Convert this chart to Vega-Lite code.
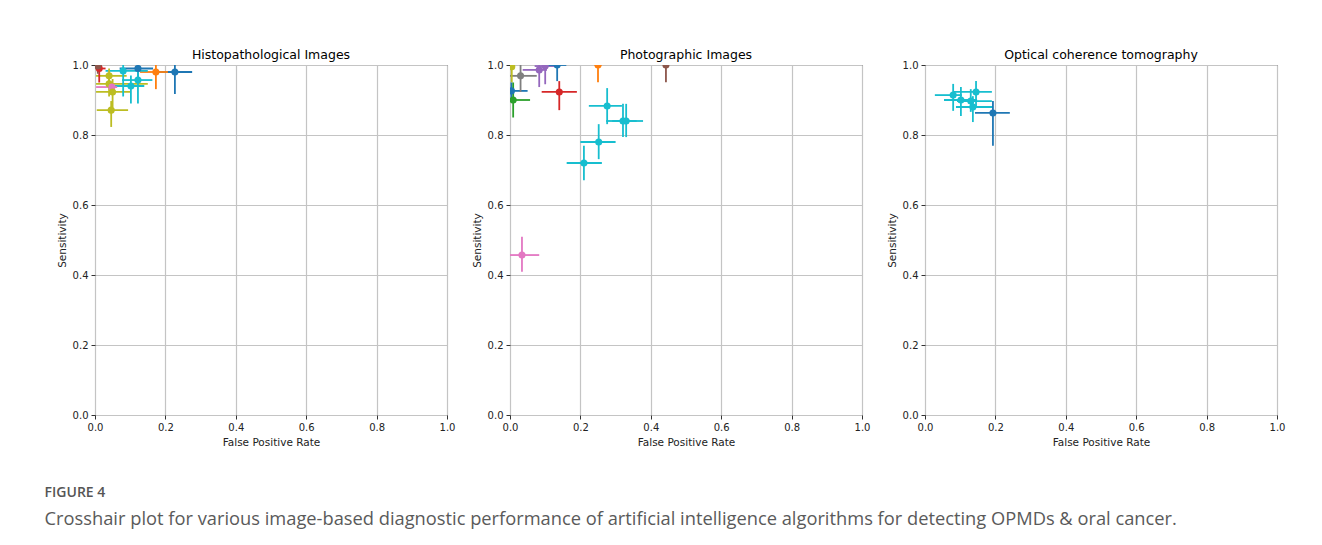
{
  "$schema": "https://vega.github.io/schema/vega-lite/v6.json",
  "padding": {"left": 44, "top": 48, "right": 5, "bottom": 5},
  "background": "white",
  "title": {
    "text": "FIGURE 4",
    "subtitle": "Crosshair plot for various image-based diagnostic performance of artificial intelligence algorithms for detecting OPMDs & oral cancer.",
    "orient": "bottom",
    "anchor": "start",
    "frame": "bounds",
    "offset": 38,
    "dx": -12,
    "font": "Open Sans",
    "fontSize": 14,
    "fontWeight": 600,
    "color": "#555555",
    "subtitleFont": "Open Sans",
    "subtitleFontSize": 18.3,
    "subtitleColor": "#5a5a5a",
    "subtitlePadding": 11
  },
  "data": {
    "values": [
      {"panel": "Histopathological Images", "series": "C0", "fpr": 0.227, "fpr_lo": 0.179, "fpr_hi": 0.276, "sens": 0.98, "sens_lo": 0.917, "sens_hi": 1.01},
      {"panel": "Histopathological Images", "series": "C1", "fpr": 0.173, "fpr_lo": 0.128, "fpr_hi": 0.207, "sens": 0.98, "sens_lo": 0.931, "sens_hi": 1.01},
      {"panel": "Histopathological Images", "series": "C0", "fpr": 0.122, "fpr_lo": 0.07, "fpr_hi": 0.165, "sens": 0.99, "sens_lo": 0.96, "sens_hi": 1.02},
      {"panel": "Histopathological Images", "series": "C9", "fpr": 0.08, "fpr_lo": 0.03, "fpr_hi": 0.15, "sens": 0.983, "sens_lo": 0.91, "sens_hi": 1.0},
      {"panel": "Histopathological Images", "series": "C9", "fpr": 0.122, "fpr_lo": 0.077, "fpr_hi": 0.163, "sens": 0.957, "sens_lo": 0.89, "sens_hi": 0.985},
      {"panel": "Histopathological Images", "series": "C9", "fpr": 0.102, "fpr_lo": 0.05, "fpr_hi": 0.14, "sens": 0.94, "sens_lo": 0.89, "sens_hi": 0.97},
      {"panel": "Histopathological Images", "series": "C8", "fpr": 0.04, "fpr_lo": 0.003, "fpr_hi": 0.09, "sens": 0.969, "sens_lo": 0.94, "sens_hi": 0.99},
      {"panel": "Histopathological Images", "series": "C8", "fpr": 0.04, "fpr_lo": 0.003, "fpr_hi": 0.15, "sens": 0.946, "sens_lo": 0.91, "sens_hi": 0.975},
      {"panel": "Histopathological Images", "series": "C6", "fpr": 0.048, "fpr_lo": 0.003, "fpr_hi": 0.063, "sens": 0.937, "sens_lo": 0.92, "sens_hi": 0.95},
      {"panel": "Histopathological Images", "series": "C8", "fpr": 0.05, "fpr_lo": 0.003, "fpr_hi": 0.1, "sens": 0.923, "sens_lo": 0.88, "sens_hi": 0.96},
      {"panel": "Histopathological Images", "series": "C8", "fpr": 0.046, "fpr_lo": 0.005, "fpr_hi": 0.094, "sens": 0.871, "sens_lo": 0.823, "sens_hi": 0.897},
      {"panel": "Histopathological Images", "series": "C3", "fpr": 0.012, "fpr_lo": 0.002, "fpr_hi": 0.03, "sens": 0.99, "sens_lo": 0.95, "sens_hi": 1.0},
      {"panel": "Histopathological Images", "series": "C5", "fpr": 0.008, "fpr_lo": 0.0, "fpr_hi": 0.02, "sens": 0.997, "sens_lo": 0.975, "sens_hi": 1.0},
      {"panel": "Photographic Images", "series": "C8", "fpr": 0.005, "fpr_lo": 0.0, "fpr_hi": 0.012, "sens": 0.995, "sens_lo": 0.95, "sens_hi": 1.0},
      {"panel": "Photographic Images", "series": "C7", "fpr": 0.03, "fpr_lo": 0.0, "fpr_hi": 0.076, "sens": 0.969, "sens_lo": 0.923, "sens_hi": 1.0},
      {"panel": "Photographic Images", "series": "C4", "fpr": 0.083, "fpr_lo": 0.036, "fpr_hi": 0.105, "sens": 0.986, "sens_lo": 0.937, "sens_hi": 1.0},
      {"panel": "Photographic Images", "series": "C4", "fpr": 0.1, "fpr_lo": 0.07, "fpr_hi": 0.135, "sens": 0.997, "sens_lo": 0.945, "sens_hi": 1.0},
      {"panel": "Photographic Images", "series": "C0", "fpr": 0.134, "fpr_lo": 0.1, "fpr_hi": 0.16, "sens": 1.0, "sens_lo": 0.954, "sens_hi": 1.0},
      {"panel": "Photographic Images", "series": "C0", "fpr": 0.004, "fpr_lo": 0.0, "fpr_hi": 0.05, "sens": 0.926, "sens_lo": 0.9, "sens_hi": 0.95},
      {"panel": "Photographic Images", "series": "C2", "fpr": 0.009, "fpr_lo": 0.0, "fpr_hi": 0.057, "sens": 0.9, "sens_lo": 0.85, "sens_hi": 0.95},
      {"panel": "Photographic Images", "series": "C3", "fpr": 0.14, "fpr_lo": 0.09, "fpr_hi": 0.19, "sens": 0.923, "sens_lo": 0.871, "sens_hi": 0.954},
      {"panel": "Photographic Images", "series": "C1", "fpr": 0.25, "fpr_lo": 0.24, "fpr_hi": 0.26, "sens": 1.0, "sens_lo": 0.951, "sens_hi": 1.0},
      {"panel": "Photographic Images", "series": "C5", "fpr": 0.443, "fpr_lo": 0.435, "fpr_hi": 0.45, "sens": 1.0, "sens_lo": 0.951, "sens_hi": 1.0},
      {"panel": "Photographic Images", "series": "C9", "fpr": 0.276, "fpr_lo": 0.224, "fpr_hi": 0.318, "sens": 0.883, "sens_lo": 0.831, "sens_hi": 0.934},
      {"panel": "Photographic Images", "series": "C9", "fpr": 0.321, "fpr_lo": 0.273, "fpr_hi": 0.36, "sens": 0.84, "sens_lo": 0.794, "sens_hi": 0.889},
      {"panel": "Photographic Images", "series": "C9", "fpr": 0.33, "fpr_lo": 0.29, "fpr_hi": 0.378, "sens": 0.84, "sens_lo": 0.794, "sens_hi": 0.889},
      {"panel": "Photographic Images", "series": "C9", "fpr": 0.252, "fpr_lo": 0.2, "fpr_hi": 0.3, "sens": 0.78, "sens_lo": 0.731, "sens_hi": 0.831},
      {"panel": "Photographic Images", "series": "C9", "fpr": 0.21, "fpr_lo": 0.161, "fpr_hi": 0.261, "sens": 0.72, "sens_lo": 0.671, "sens_hi": 0.769},
      {"panel": "Photographic Images", "series": "C6", "fpr": 0.034, "fpr_lo": 0.0, "fpr_hi": 0.083, "sens": 0.457, "sens_lo": 0.409, "sens_hi": 0.509},
      {"panel": "Optical coherence tomography", "series": "C9", "fpr": 0.08, "fpr_lo": 0.028, "fpr_hi": 0.105, "sens": 0.914, "sens_lo": 0.869, "sens_hi": 0.946},
      {"panel": "Optical coherence tomography", "series": "C9", "fpr": 0.102, "fpr_lo": 0.054, "fpr_hi": 0.148, "sens": 0.9, "sens_lo": 0.854, "sens_hi": 0.937},
      {"panel": "Optical coherence tomography", "series": "C9", "fpr": 0.13, "fpr_lo": 0.091, "fpr_hi": 0.19, "sens": 0.897, "sens_lo": 0.866, "sens_hi": 0.931},
      {"panel": "Optical coherence tomography", "series": "C9", "fpr": 0.145, "fpr_lo": 0.08, "fpr_hi": 0.19, "sens": 0.923, "sens_lo": 0.883, "sens_hi": 0.954},
      {"panel": "Optical coherence tomography", "series": "C9", "fpr": 0.136, "fpr_lo": 0.088, "fpr_hi": 0.193, "sens": 0.88, "sens_lo": 0.837, "sens_hi": 0.911},
      {"panel": "Optical coherence tomography", "series": "C0", "fpr": 0.193, "fpr_lo": 0.142, "fpr_hi": 0.241, "sens": 0.863, "sens_lo": 0.769, "sens_hi": 0.897}
    ]
  },
  "facet": {
    "column": {
      "field": "panel",
      "type": "nominal",
      "sort": ["Histopathological Images", "Photographic Images", "Optical coherence tomography"],
      "header": {"title": null, "labelFont": "DejaVu Sans", "labelFontSize": 12.5, "labelColor": "black", "labelPadding": 4}
    }
  },
  "spacing": 63,
  "bounds": "flush",
  "resolve": {"axis": {"x": "independent", "y": "independent"}},
  "spec": {
    "width": 352,
    "height": 350,
    "encoding": {
      "color": {
        "field": "series",
        "type": "nominal",
        "scale": {"domain": ["C0", "C1", "C2", "C3", "C4", "C5", "C6", "C7", "C8", "C9"], "scheme": "category10"},
        "legend": null
      }
    },
    "layer": [
      {
        "mark": {"type": "rule", "strokeWidth": 1.8, "clip": true},
        "encoding": {
          "x": {"field": "fpr_lo", "type": "quantitative", "scale": {"domain": [0, 1], "nice": false, "zero": false}, "title": "False Positive Rate",
                "axis": {"values": [0, 0.2, 0.4, 0.6, 0.8, 1.0], "format": ".1f", "titlePadding": 5}},
          "x2": {"field": "fpr_hi"},
          "y": {"field": "sens", "type": "quantitative", "scale": {"domain": [0, 1], "nice": false, "zero": false}, "title": "Sensitivity",
                "axis": {"values": [0, 0.2, 0.4, 0.6, 0.8, 1.0], "format": ".1f", "titlePadding": 5}}
        }
      },
      {
        "mark": {"type": "rule", "strokeWidth": 1.8, "clip": true},
        "encoding": {
          "x": {"field": "fpr", "type": "quantitative", "title": "False Positive Rate"},
          "y": {"field": "sens_lo", "type": "quantitative", "title": "Sensitivity"},
          "y2": {"field": "sens_hi"}
        }
      },
      {
        "mark": {"type": "point", "filled": true, "opacity": 1, "size": 50, "shape": "circle", "clip": true},
        "encoding": {
          "x": {"field": "fpr", "type": "quantitative", "title": "False Positive Rate"},
          "y": {"field": "sens", "type": "quantitative", "title": "Sensitivity"}
        }
      }
    ]
  },
  "config": {
    "view": {"stroke": "#333333", "strokeWidth": 1},
    "axis": {
      "labelFont": "DejaVu Sans",
      "labelFontSize": 10,
      "labelColor": "#222222",
      "titleFont": "DejaVu Sans",
      "titleFontSize": 10.5,
      "titleFontWeight": "normal",
      "titleColor": "#222222",
      "domain": false,
      "grid": true,
      "gridColor": "#c4c4c4",
      "gridWidth": 1.2,
      "tickColor": "#333333",
      "tickSize": 4,
      "labelPadding": 3,
      "labelFlush": false
    }
  }
}
